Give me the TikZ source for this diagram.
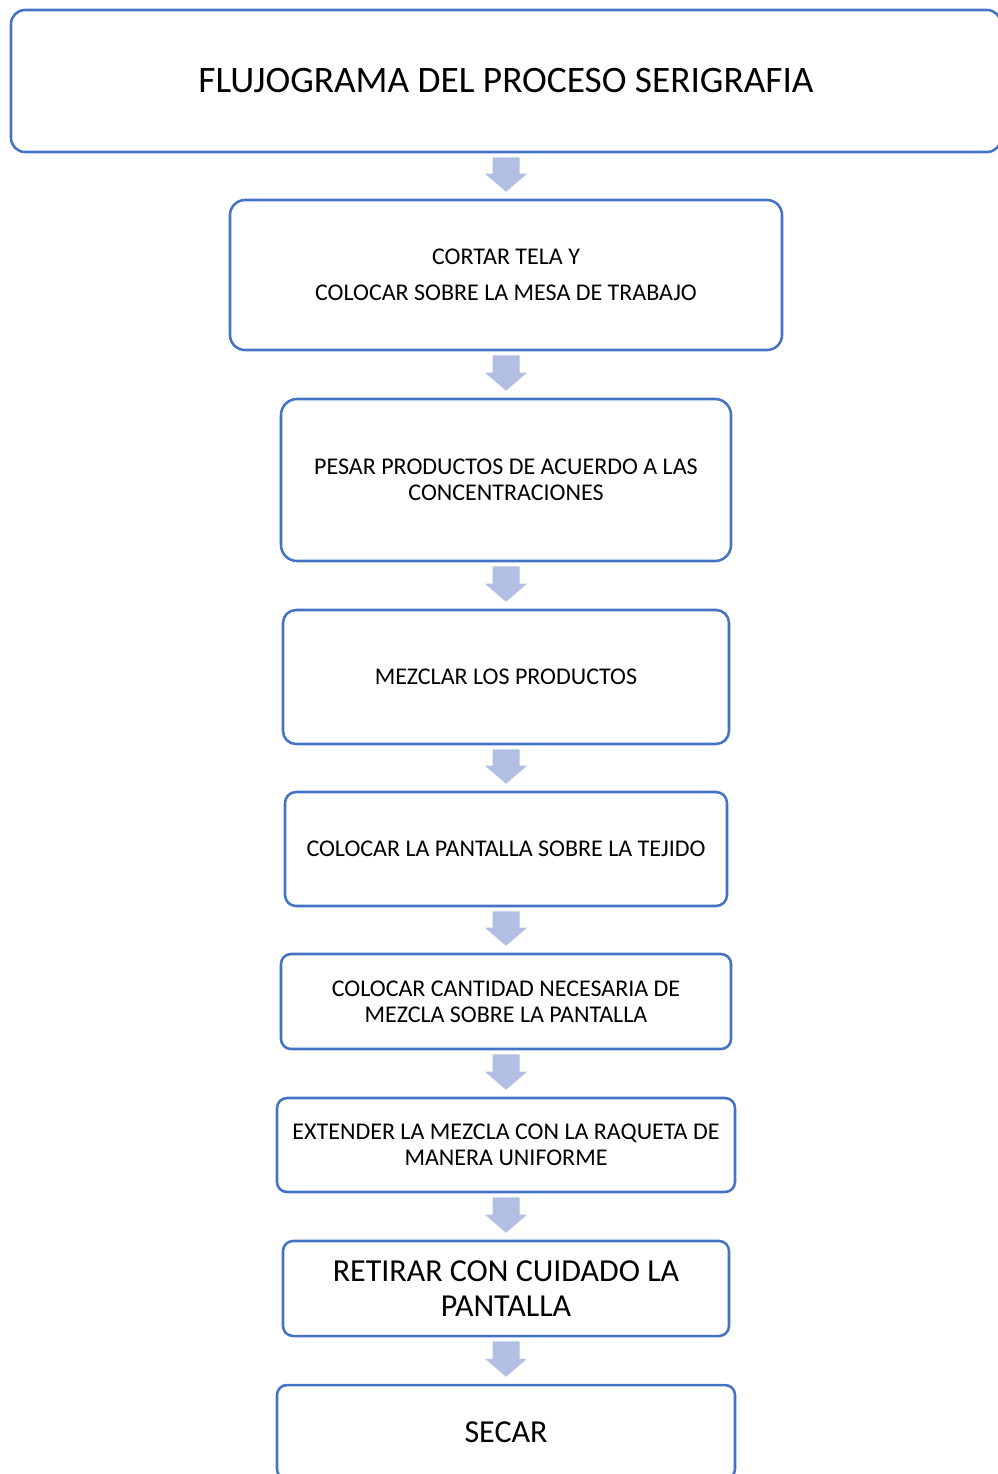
\documentclass[tikz,border=0pt]{standalone}
\usepackage{fontspec}
\setmainfont{Carlito}
\usetikzlibrary{calc}
\definecolor{boxline}{RGB}{68,114,196}
\definecolor{arrowfill}{RGB}{178,191,226}
\newcommand\txtsmall{\fontsize{18}{19.5}\selectfont}
\newcommand\txtbig{\fontsize{24}{26.25}\selectfont}
\newcommand\txttitle{\fontsize{28}{32}\selectfont}
% block arrow from the bottom of one step to the top of the next
\newcommand\flowarrow[2]{%
  \fill[arrowfill] let \p1=($(#1.south)+(0,4)$), \p2=($(#2.north)+(0,-7)$) in
    (\x1-10.125pt,\y1) -- (\x1+10.125pt,\y1) -- (\x1+10.125pt,\y2+13.5pt)
    -- (\x1+15.75pt,\y2+13.5pt) -- (\x1,\y2) -- (\x1-15.75pt,\y2+13.5pt)
    -- (\x1-10.125pt,\y2+13.5pt) -- cycle;}
\begin{document}
\begin{tikzpicture}[x=0.75pt,y=-0.75pt,
  stepbox/.style n args={3}{draw=boxline, line width=1.9pt,
    rounded corners=#3*0.75pt, minimum width=#1*0.75pt,
    minimum height=#2*0.75pt, align=center, inner sep=0pt, font=\txtsmall}]
\useasboundingbox (0,0) rectangle (998,1474);

\node[stepbox={990}{142}{14}, font=\txttitle] (title) at (506,81)
  {FLUJOGRAMA DEL PROCESO SERIGRAFIA};
\node[stepbox={552}{150}{15}] (s1) at (506,275)
  {CORTAR TELA Y\\[7.5pt]COLOCAR SOBRE LA MESA DE TRABAJO};
\node[stepbox={450}{162}{16}] (s2) at (506,480)
  {PESAR PRODUCTOS DE ACUERDO A LAS\\CONCENTRACIONES};
\node[stepbox={446}{134}{13}] (s3) at (506,677)
  {MEZCLAR LOS PRODUCTOS};
\node[stepbox={442}{114}{11}] (s4) at (506,849)
  {COLOCAR LA PANTALLA SOBRE LA TEJIDO};
\node[stepbox={450}{95}{10}] (s5) at (506,1001.5)
  {COLOCAR CANTIDAD NECESARIA DE\\MEZCLA SOBRE LA PANTALLA};
\node[stepbox={458}{94}{10}] (s6) at (506,1145)
  {EXTENDER LA MEZCLA CON LA RAQUETA DE\\MANERA UNIFORME};
\node[stepbox={446}{95}{10}, font=\txtbig] (s7) at (506,1288.5)
  {RETIRAR CON CUIDADO LA\\PANTALLA};
\node[stepbox={458}{94}{10}, font=\txtbig] (s8) at (506,1432)
  {SECAR};

\flowarrow{title}{s1}
\flowarrow{s1}{s2}
\flowarrow{s2}{s3}
\flowarrow{s3}{s4}
\flowarrow{s4}{s5}
\flowarrow{s5}{s6}
\flowarrow{s6}{s7}
\flowarrow{s7}{s8}
\end{tikzpicture}
\end{document}
